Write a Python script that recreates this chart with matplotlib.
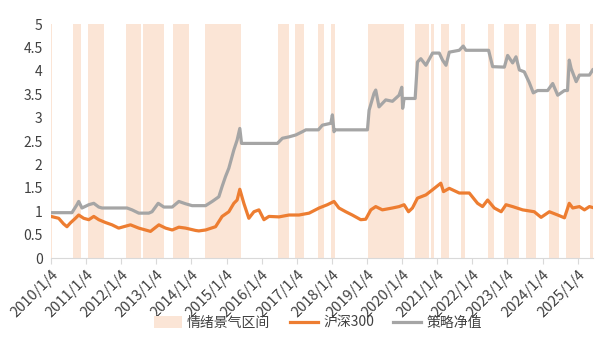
import matplotlib
matplotlib.use("Agg")
import matplotlib.pyplot as plt
from matplotlib.patches import Patch
from matplotlib.lines import Line2D
import pandas as pd

plt.rcParams['font.family'] = ['Noto Sans CJK SC', 'DejaVu Sans']

# 情绪景气区间 (shaded intervals)
band_start = ['2010-01-04', '2010-08-20', '2011-01-25', '2012-02-25', '2012-08-20',
              '2013-06-25', '2014-05-30', '2016-06-18', '2016-12-13', '2017-08-16',
              '2017-12-28', '2019-01-16', '2020-05-17', '2020-10-30', '2021-02-15',
              '2021-09-10', '2022-06-14', '2022-12-03', '2023-07-19', '2024-03-07',
              '2024-09-04', '2025-05-17']
band_end = ['2010-01-18', '2010-11-15', '2011-07-11', '2012-07-30', '2013-03-25',
            '2013-12-08', '2015-06-08', '2016-10-15', '2017-03-24', '2017-10-18',
            '2018-02-04', '2020-01-25', '2020-10-08', '2020-12-01', '2021-05-09',
            '2021-10-22', '2022-08-13', '2023-05-05', '2023-10-28', '2024-06-28',
            '2025-01-30', '2025-06-09']

# 沪深300
hs_dates = ['2010-01-04', '2010-03-25', '2010-05-15', '2010-06-19', '2010-07-24',
            '2010-09-15', '2010-10-19', '2010-12-10', '2011-02-01', '2011-03-25',
            '2011-05-16', '2011-07-24', '2011-10-01', '2011-12-09', '2012-01-30',
            '2012-04-10', '2012-07-05', '2012-09-13', '2012-11-04', '2013-01-30',
            '2013-04-10', '2013-06-18', '2013-08-26', '2013-11-04', '2014-02-16',
            '2014-03-22', '2014-05-31', '2014-09-12', '2014-11-19', '2015-01-28',
            '2015-03-21', '2015-04-24', '2015-05-22', '2015-07-03', '2015-08-24',
            '2015-10-16', '2015-12-07', '2016-01-28', '2016-03-20', '2016-07-03',
            '2016-10-15', '2017-01-27', '2017-05-12', '2017-08-24', '2017-11-18',
            '2018-01-26', '2018-03-18', '2018-05-28', '2018-08-04', '2018-10-31',
            '2018-12-22', '2019-02-13', '2019-04-05', '2019-06-13', '2019-09-26',
            '2019-12-04', '2020-01-25', '2020-03-11', '2020-04-21', '2020-06-12',
            '2020-09-08', '2020-11-16', '2021-02-10', '2021-03-10', '2021-05-09',
            '2021-08-21', '2021-12-03', '2022-02-27', '2022-04-20', '2022-06-12',
            '2022-08-20', '2022-10-31', '2022-12-20', '2023-02-27', '2023-06-11',
            '2023-10-10', '2023-12-20', '2024-03-15', '2024-06-10', '2024-08-19',
            '2024-10-08', '2024-11-13', '2025-01-22', '2025-03-15', '2025-05-06',
            '2025-06-09']
hs_vals = [0.89, 0.85, 0.73, 0.67, 0.75,
           0.85, 0.92, 0.85, 0.82, 0.89,
           0.82, 0.76, 0.71, 0.64, 0.67,
           0.71, 0.64, 0.60, 0.57, 0.71,
           0.64, 0.60, 0.66, 0.64, 0.59,
           0.58, 0.60, 0.67, 0.89, 0.99,
           1.17, 1.24, 1.47, 1.17, 0.85,
           0.99, 1.03, 0.82, 0.89, 0.88,
           0.92, 0.92, 0.96, 1.07, 1.14,
           1.21, 1.07, 0.99, 0.92, 0.82,
           0.83, 1.03, 1.10, 1.03, 1.07,
           1.10, 1.14, 0.99, 1.07, 1.28,
           1.35, 1.46, 1.60, 1.42, 1.49,
           1.39, 1.39, 1.17, 1.10, 1.24,
           1.07, 0.99, 1.14, 1.10, 1.03,
           0.99, 0.87, 0.99, 0.92, 0.86,
           1.17, 1.07, 1.10, 1.03, 1.10,
           1.08]

# 策略净值
nav_dates = ['2010-01-04', '2010-08-10', '2010-10-01', '2010-10-19', '2010-11-22',
             '2011-02-01', '2011-03-25', '2011-05-16', '2011-06-19', '2012-03-05',
             '2012-04-26', '2012-07-05', '2012-10-17', '2012-11-20', '2013-01-23',
             '2013-03-23', '2013-06-18', '2013-08-26', '2013-11-04', '2014-01-11',
             '2014-05-31', '2014-08-08', '2014-10-16', '2014-11-19', '2014-12-24',
             '2015-01-28', '2015-03-21', '2015-04-24', '2015-05-22', '2015-06-09',
             '2016-06-16', '2016-08-07', '2016-10-15', '2016-12-24', '2017-03-03',
             '2017-04-08', '2017-08-16', '2017-09-27', '2017-12-24', '2018-01-09',
             '2018-01-26', '2018-02-04', '2019-01-09', '2019-01-26', '2019-03-18',
             '2019-04-05', '2019-05-09', '2019-07-18', '2019-09-26', '2019-12-04',
             '2020-01-01', '2020-01-10', '2020-01-25', '2020-05-19', '2020-06-12',
             '2020-07-17', '2020-09-08', '2020-11-16', '2021-01-25', '2021-02-28',
             '2021-04-05', '2021-05-09', '2021-08-21', '2021-10-01', '2021-10-29',
             '2022-06-22', '2022-08-03', '2022-12-03', '2023-01-06', '2023-02-27',
             '2023-04-03', '2023-05-08', '2023-06-28', '2023-08-19', '2023-09-30',
             '2023-11-14', '2024-02-26', '2024-04-19', '2024-06-10', '2024-08-19',
             '2024-09-20', '2024-10-08', '2024-10-28', '2024-12-19', '2025-01-22',
             '2025-05-06', '2025-06-09']
nav_vals = [0.97, 0.97, 1.14, 1.21, 1.07,
            1.14, 1.17, 1.09, 1.07, 1.07,
            1.03, 0.96, 0.96, 0.99, 1.17,
            1.09, 1.09, 1.21, 1.16, 1.12,
            1.12, 1.21, 1.31, 1.53, 1.74,
            1.92, 2.31, 2.52, 2.77, 2.45,
            2.45, 2.56, 2.59, 2.63, 2.70,
            2.74, 2.74, 2.84, 2.88, 3.06,
            2.70, 2.74, 2.74, 3.16, 3.52,
            3.59, 3.23, 3.38, 3.35, 3.48,
            3.65, 3.20, 3.41, 3.41, 4.19,
            4.26, 4.12, 4.38, 4.38, 4.23,
            4.12, 4.40, 4.44, 4.53, 4.44,
            4.44, 4.09, 4.08, 4.33, 4.17,
            4.30, 4.02, 3.98, 3.75, 3.53,
            3.58, 3.58, 3.73, 3.48, 3.58,
            3.58, 4.23, 4.05, 3.77, 3.91,
            3.91, 4.02]

tick_years = list(range(2010, 2026))

SHADE = '#FBE5D6'
ORANGE = '#ED7D31'
GREY = '#A5A5A5'


def main():
    fig = plt.figure(figsize=(6.0, 3.54), dpi=100)
    ax = fig.add_axes([0.085, 0.271, 0.903, 0.661])

    for s, e in zip(band_start, band_end):
        ax.axvspan(pd.Timestamp(s), pd.Timestamp(e), color=SHADE, lw=0, zorder=1)

    ax.plot(pd.to_datetime(hs_dates), hs_vals, color=ORANGE, lw=2.3, zorder=3)
    ax.plot(pd.to_datetime(nav_dates), nav_vals, color=GREY, lw=2.3, zorder=4)

    ax.set_xlim(pd.Timestamp('2010-01-04'), pd.Timestamp('2025-06-10'))
    ax.set_ylim(0, 5)
    ax.set_yticks([0, 0.5, 1, 1.5, 2, 2.5, 3, 3.5, 4, 4.5, 5])
    ax.set_yticklabels(['0', '0.5', '1', '1.5', '2', '2.5', '3', '3.5', '4', '4.5', '5'],
                       fontsize=10, color='#404040')

    ticks = [pd.Timestamp('%d-01-04' % y) for y in tick_years]
    ax.set_xticks(ticks)
    ax.set_xticklabels(['%d/1/4' % y for y in tick_years], rotation=45, ha='right',
                       rotation_mode='anchor', fontsize=10.5, color='#404040')

    for side in ['top', 'right', 'left']:
        ax.spines[side].set_visible(False)
    ax.spines['bottom'].set_color('#D9D9D9')
    ax.tick_params(axis='y', length=0, pad=6)
    ax.tick_params(axis='x', length=4, color='#D9D9D9', pad=3)

    handles = [Patch(facecolor=SHADE, edgecolor='none'),
               Line2D([0], [0], color=ORANGE, lw=2.3),
               Line2D([0], [0], color=GREY, lw=2.3)]
    fig.legend(handles, ['情绪景气区间', '沪深300', '策略净值'], loc='center',
               bbox_to_anchor=(0.53, 0.088), ncol=3, frameon=False, fontsize=10,
               handlelength=2.0, handleheight=0.9, handletextpad=0.4,
               columnspacing=1.4, labelcolor='#404040')

    fig.savefig('out.png', dpi=100)


if __name__ == "__main__":
    main()
